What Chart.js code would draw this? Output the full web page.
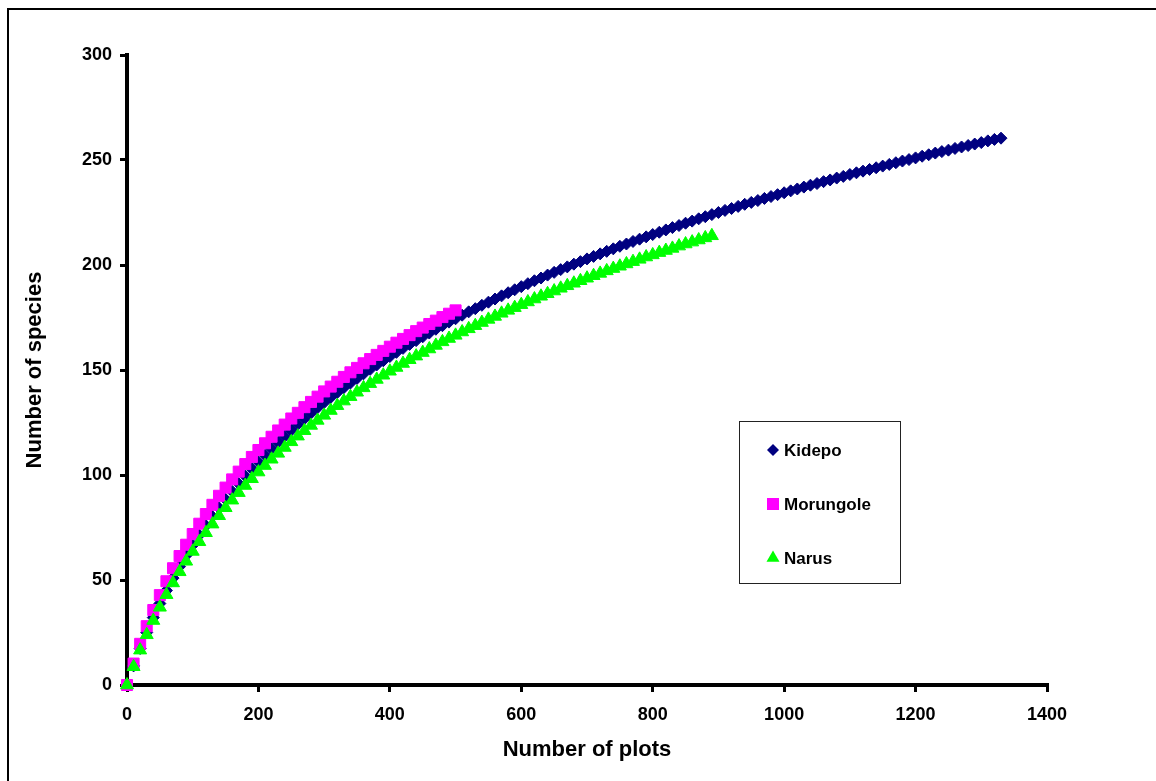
<!DOCTYPE html>
<html>
<head>
<meta charset="utf-8">
<title>Species accumulation curves</title>
<script src="https://cdn.jsdelivr.net/npm/chart.js@4.4.0/dist/chart.umd.min.js"></script>
<style>
  html, body { margin: 0; padding: 0; background: #fff; }
  #wrap { position: relative; width: 1156px; height: 781px; }
</style>
</head>
<body>
<div id="wrap"><canvas id="curveChart" width="1156" height="781"></canvas></div>
<script>
// number of plots sampled (x values, every 10 plots)
var plots = [
    0, 10, 20, 30, 40, 50, 60, 70, 80, 90, 100, 110, 120, 130, 140, 150, 160, 170, 180, 190,
    200, 210, 220, 230, 240, 250, 260, 270, 280, 290, 300, 310, 320, 330, 340, 350, 360, 370, 380, 390,
    400, 410, 420, 430, 440, 450, 460, 470, 480, 490, 500, 510, 520, 530, 540, 550, 560, 570, 580, 590,
    600, 610, 620, 630, 640, 650, 660, 670, 680, 690, 700, 710, 720, 730, 740, 750, 760, 770, 780, 790,
    800, 810, 820, 830, 840, 850, 860, 870, 880, 890, 900, 910, 920, 930, 940, 950, 960, 970, 980, 990,
    1000, 1010, 1020, 1030, 1040, 1050, 1060, 1070, 1080, 1090, 1100, 1110, 1120, 1130, 1140, 1150,
    1160, 1170, 1180, 1190, 1200, 1210, 1220, 1230, 1240, 1250, 1260, 1270, 1280, 1290, 1300, 1310,
    1320, 1330
];

var kidepo = [
    0, 9.1, 17.4, 25.0, 32.1, 38.8, 45.0, 50.9, 56.4, 61.7,
    66.6, 71.4, 75.9, 80.2, 84.4, 88.4, 92.2, 95.9, 99.5, 102.9,
    106.2, 109.4, 112.5, 115.6, 118.5, 121.3, 124.1, 126.8, 129.4, 132.0,
    134.5, 136.9, 139.3, 141.6, 143.8, 146.0, 148.2, 150.3, 152.4, 154.4,
    156.4, 158.4, 160.3, 162.2, 164.0, 165.8, 167.6, 169.4, 171.1, 172.8,
    174.4, 176.1, 177.7, 179.2, 180.8, 182.3, 183.8, 185.3, 186.8, 188.2,
    189.7, 191.1, 192.5, 193.8, 195.2, 196.5, 197.8, 199.1, 200.4, 201.6,
    202.9, 204.1, 205.3, 206.5, 207.7, 208.9, 210.0, 211.2, 212.3, 213.4,
    214.5, 215.6, 216.7, 217.8, 218.8, 219.9, 220.9, 222.0, 223.0, 224.0,
    225.0, 226.0, 226.9, 227.9, 228.9, 229.8, 230.7, 231.7, 232.6, 233.5,
    234.4, 235.3, 236.2, 237.1, 238.0, 238.8, 239.7, 240.5, 241.4, 242.2,
    243.1, 243.9, 244.7, 245.5, 246.3, 247.1, 247.9, 248.7, 249.5, 250.2,
    251.0, 251.8, 252.5, 253.3, 254.0, 254.7, 255.5, 256.2, 256.9, 257.6,
    258.3, 259.1, 259.8, 260.4
];

var morungole = [
    0, 10.2, 19.6, 28.0, 35.7, 42.8, 49.4, 55.6, 61.4, 66.8,
    71.9, 76.8, 81.4, 85.8, 90.1, 94.0, 97.9, 101.6, 105.2, 108.6,
    111.9, 115.1, 118.2, 121.2, 124.0, 126.9, 129.6, 132.3, 134.8, 137.3,
    139.8, 142.1, 144.4, 146.7, 148.9, 151.0, 153.2, 155.2, 157.2, 159.1,
    161.1, 163.0, 164.8, 166.6, 168.5, 170.2, 171.9, 173.5, 175.2, 176.8,
    178.4
];

var narus = [
    0, 8.7, 16.6, 23.9, 30.7, 37.0, 43.0, 48.6, 53.9, 58.9,
    63.6, 68.2, 72.5, 76.6, 80.6, 84.4, 88.0, 91.6, 95.0, 98.2,
    101.4, 104.5, 107.5, 110.3, 113.1, 115.8, 118.5, 121.1, 123.6, 126.0,
    128.4, 130.7, 133.0, 135.2, 137.3, 139.4, 141.5, 143.5, 145.5, 147.5,
    149.4, 151.2, 153.1, 154.9, 156.6, 158.3, 160.0, 161.7, 163.4, 165.0,
    166.5, 168.1, 169.6, 171.1, 172.6, 174.1, 175.5, 177.0, 178.4, 179.7,
    181.1, 182.4, 183.8, 185.1, 186.3, 187.6, 188.9, 190.1, 191.3, 192.5,
    193.7, 194.9, 196.0, 197.2, 198.3, 199.4, 200.5, 201.6, 202.7, 203.8,
    204.8, 205.9, 206.9, 207.9, 209.0, 210.0, 210.9, 211.9, 212.9, 213.9
];

var seriesNames = ['Kidepo', 'Morungole', 'Narus'];
var xTitle = 'Number of plots';
var yTitle = 'Number of species';

var FONT = '"Liberation Sans", Arial, Helvetica, sans-serif';

function toPoints(values) {
    return values.map(function (v, i) { return { x: plots[i], y: v }; });
}

function drawMarker(ctx, style, x, y, r) {
    ctx.beginPath();
    if (style === 'rectRot') {
        ctx.moveTo(x, y - r);
        ctx.lineTo(x + r, y);
        ctx.lineTo(x, y + r);
        ctx.lineTo(x - r, y);
    } else if (style === 'rect') {
        var s = r * Math.SQRT1_2;
        ctx.rect(x - s, y - s, 2 * s, 2 * s);
    } else {
        ctx.moveTo(x, y - r);
        ctx.lineTo(x + r * 0.866, y + r / 2);
        ctx.lineTo(x - r * 0.866, y + r / 2);
    }
    ctx.closePath();
    ctx.fill();
}

// white page with the thin outer frame (top + left edges visible)
var pageFrame = {
    id: 'pageFrame',
    beforeDraw: function (chart) {
        var ctx = chart.ctx;
        ctx.save();
        ctx.fillStyle = '#fff';
        ctx.fillRect(0, 0, chart.width, chart.height);
        ctx.strokeStyle = '#000';
        ctx.lineWidth = 2;
        ctx.beginPath();
        ctx.moveTo(8, chart.height);
        ctx.lineTo(8, 9);
        ctx.lineTo(chart.width, 9);
        ctx.stroke();
        ctx.restore();
    }
};

// boxed legend sitting inside the plot area
var boxLegend = {
    id: 'boxLegend',
    afterDraw: function (chart) {
        var ctx = chart.ctx;
        ctx.save();
        ctx.strokeStyle = '#222';
        ctx.lineWidth = 1;
        ctx.strokeRect(739.5, 421.5, 161, 162);
        ctx.font = 'bold 17px ' + FONT;
        ctx.textBaseline = 'middle';
        ctx.textAlign = 'left';
        var rowY = [450, 504, 558];
        var sizes = { rectRot: 6, rect: 8.5, triangle: 7.5 };
        chart.data.datasets.forEach(function (ds, i) {
            ctx.fillStyle = ds.backgroundColor;
            drawMarker(ctx, ds.pointStyle, 773, rowY[i], sizes[ds.pointStyle]);
            ctx.fillStyle = '#000';
            ctx.fillText(ds.label, 784, rowY[i] + 1);
        });
        ctx.restore();
    }
};

var tickFont = { family: FONT, size: 18, weight: 'bold' };
var titleFont = { family: FONT, size: 22, weight: 'bold' };

new Chart(document.getElementById('curveChart'), {
    type: 'scatter',
    data: {
        datasets: [
            {
                label: seriesNames[0],
                data: toPoints(kidepo),
                pointStyle: 'rectRot',
                pointRadius: 6,
                backgroundColor: '#000080',
                borderColor: '#000080',
                borderWidth: 1,
                order: 3,
                clip: false
            },
            {
                label: seriesNames[1],
                data: toPoints(morungole),
                pointStyle: 'rect',
                pointRadius: 7.8,
                backgroundColor: '#ff00ff',
                borderColor: '#ff00ff',
                borderWidth: 1,
                order: 2,
                clip: false
            },
            {
                label: seriesNames[2],
                data: toPoints(narus),
                pointStyle: 'triangle',
                pointRadius: 7.5,
                backgroundColor: '#00ff00',
                borderColor: '#00ff00',
                borderWidth: 1,
                order: 1,
                clip: false
            }
        ]
    },
    options: {
        responsive: false,
        animation: false,
        layout: { padding: { top: 55, right: 109, left: 0, bottom: 0 } },
        plugins: {
            legend: { display: false },
            tooltip: { enabled: false }
        },
        scales: {
            x: {
                type: 'linear',
                min: 0,
                max: 1400,
                afterFit: function (s) { s.height = 96; },
                ticks: {
                    stepSize: 200,
                    color: '#000',
                    font: tickFont,
                    padding: 12,
                    maxRotation: 0,
                    callback: function (v) { return String(v); }
                },
                grid: { drawOnChartArea: false, drawTicks: true, tickLength: 7, color: '#000', lineWidth: 3 },
                border: { display: true, color: '#000', width: 4 },
                title: { display: true, text: xTitle, color: '#000', font: titleFont, padding: { top: 0, bottom: 18 } }
            },
            y: {
                type: 'linear',
                min: 0,
                max: 300,
                afterFit: function (s) { s.width = 127; },
                ticks: {
                    stepSize: 50,
                    color: '#000',
                    font: tickFont,
                    padding: 8,
                    callback: function (v) { return String(v); }
                },
                grid: { drawOnChartArea: false, drawTicks: true, tickLength: 7, color: '#000', lineWidth: 3 },
                border: { display: true, color: '#000', width: 4 },
                title: { display: true, text: yTitle, color: '#000', font: titleFont, padding: { top: 22, bottom: 0 } }
            }
        }
    },
    plugins: [pageFrame, boxLegend]
});
</script>
</body>
</html>
